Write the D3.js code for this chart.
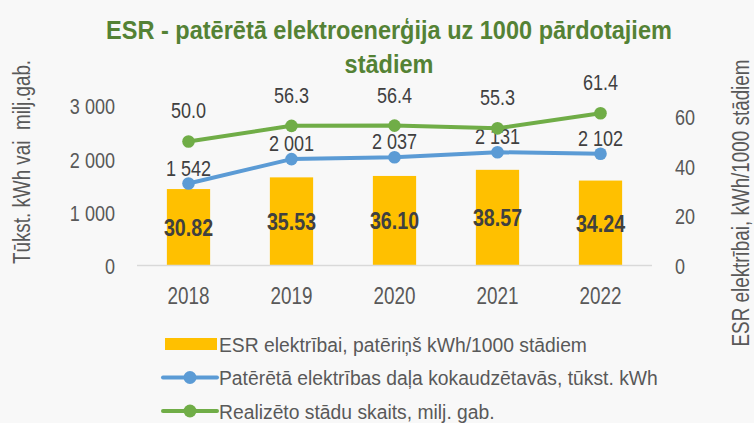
<!DOCTYPE html>
<html>
<head>
<meta charset="utf-8">
<script src="https://cdn.jsdelivr.net/npm/d3@7/dist/d3.min.js"></script>
<style>
  html, body { margin: 0; padding: 0; background: #f8f8f8; }
  #chart-container { width: 754px; height: 423px; }
  text { font-family: "Liberation Sans", Arial, sans-serif; }
</style>
</head>
<body>
<div id="chart-container"></div>
<script>
// data
const years = ["2018", "2019", "2020", "2021", "2022"];
const esrPer1000 = [30.82, 35.53, 36.10, 38.57, 34.24];      // bars, right axis
const consumedKWh = [1542, 2001, 2037, 2131, 2102];          // blue line, left axis
const plantsMln = [50.0, 56.3, 56.4, 55.3, 61.4];            // green line, right axis
const leftTicks = [0, 1000, 2000, 3000];
const rightTicks = [0, 20, 40, 60];
const legendNames = [
  "ESR elektrībai, patēriņš kWh/1000 stādiem",
  "Patērētā elektrības daļa kokaudzētavās, tūkst. kWh",
  "Realizēto stādu skaits, milj. gab."
];

const colors = { bar: "#ffc000", blue: "#5b9bd5", green: "#70ad47", title: "#548235", text: "#595959" };
const lv = d3.formatLocale({ decimal: ".", thousands: "\u00a0", grouping: [3], currency: ["", ""] });
const fmtThousands = lv.format(",d");

const W = 754, H = 423;
const NARROW = 0.82; // no Arial Narrow here, so squeeze Liberation Sans
const plot = { left: 137, right: 652, top: 106, bottom: 265.5 };

const svg = d3.select("#chart-container").append("svg")
  .attr("width", W).attr("height", H);

svg.append("rect").attr("width", W).attr("height", H).attr("fill", "#f8f8f8");

const x = d3.scaleBand().domain(years)
  .range([plot.left, plot.right])
  .paddingInner(0.58).paddingOuter(0.29);
const yLeft = d3.scaleLinear().domain([0, 3000]).range([plot.bottom, plot.top]);
const yRight = d3.scaleLinear().domain([0, 64.3]).range([plot.bottom, plot.top]);
const cx = (d) => x(d) + x.bandwidth() / 2;

// text placed by transform so it can be squeezed horizontally
const addText = (parent, px, py, str, rot, sx = NARROW) => parent.append("text")
  .attr("transform", `translate(${px},${py})${rot ? ` rotate(${rot})` : ""} scale(${sx},1)`)
  .text(str);

// title, first line squeezed to the width it has in the picture
const title1 = addText(svg, 389, 39, "ESR - patērētā elektroenerģija uz 1000 pārdotajiem", 0, 1)
  .attr("text-anchor", "middle").attr("fill", colors.title).attr("font-weight", "bold").attr("font-size", 26);
const titleSx = 566 / title1.node().getComputedTextLength();
title1.attr("transform", `translate(389,39) scale(${titleSx},1)`);
addText(svg, 389, 73, "stādiem", 0, titleSx)
  .attr("text-anchor", "middle").attr("fill", colors.title).attr("font-weight", "bold").attr("font-size", 26);

// axes
const leftAxis = svg.append("g")
  .attr("transform", `translate(${plot.left - 22},0)`)
  .call(d3.axisLeft(yLeft).tickValues(leftTicks).tickFormat(fmtThousands).tickSize(0).tickPadding(0));
const rightAxis = svg.append("g")
  .attr("transform", `translate(${plot.right + 23},0)`)
  .call(d3.axisRight(yRight).tickValues(rightTicks).tickSize(0).tickPadding(0));
const xAxis = svg.append("g")
  .attr("transform", `translate(0,${plot.bottom + 38})`)
  .call(d3.axisBottom(x).tickSize(0).tickPadding(0));

[leftAxis, rightAxis, xAxis].forEach((g) => {
  g.select(".domain").remove();
  g.selectAll("text").attr("fill", colors.text).attr("font-size", 22)
    .attr("font-family", "\"Liberation Sans\", Arial, sans-serif")
    .attr("x", 0).attr("y", 0).attr("dy", "0.36em")
    .attr("transform", `scale(${NARROW},1)`);
});
xAxis.selectAll("text").attr("dy", 0).attr("font-size", 23);

// axis titles
addText(svg, 30, 162, "Tūkst. kWh vai  milj.gab.", -90)
  .attr("text-anchor", "middle").attr("fill", colors.text).attr("font-size", 23)
  .style("white-space", "pre");
addText(svg, 749, 203, "ESR elektrībai, kWh/1000 stādiem", -90)
  .attr("text-anchor", "middle").attr("fill", colors.text).attr("font-size", 23);

// bars
const bars = svg.append("g").attr("class", "bars");
bars.selectAll("rect").data(years).enter().append("rect")
  .attr("x", (d) => x(d))
  .attr("width", x.bandwidth())
  .attr("y", (d, i) => yRight(esrPer1000[i]))
  .attr("height", (d, i) => yRight(0) - yRight(esrPer1000[i]))
  .attr("fill", colors.bar);

// baseline
svg.append("line")
  .attr("x1", plot.left).attr("x2", plot.right)
  .attr("y1", plot.bottom).attr("y2", plot.bottom)
  .attr("stroke", "#d9d9d9").attr("stroke-width", 1.5);

years.forEach((d, i) => {
  addText(bars, cx(d), (yRight(esrPer1000[i]) + yRight(0)) / 2, esrPer1000[i].toFixed(2))
    .attr("dy", "0.36em")
    .attr("text-anchor", "middle").attr("font-weight", "bold").attr("font-size", 24)
    .attr("fill", "#404040");
});

// lines
const drawLine = (values, scale, color, fmt, labelDy) => {
  const pts = years.map((d, i) => [cx(d), scale(values[i])]);
  const g = svg.append("g");
  g.append("path")
    .attr("d", d3.line()(pts))
    .attr("fill", "none").attr("stroke", color).attr("stroke-width", 4)
    .attr("stroke-linejoin", "round");
  g.selectAll("circle").data(pts).enter().append("circle")
    .attr("cx", (d) => d[0]).attr("cy", (d) => d[1]).attr("r", 6.3)
    .attr("fill", color);
  values.forEach((v, i) => {
    addText(g, pts[i][0], pts[i][1] - labelDy, fmt(v))
      .attr("text-anchor", "middle").attr("font-size", 22).attr("fill", "#404040");
  });
};
drawLine(consumedKWh, yLeft, colors.blue, fmtThousands, 8);
drawLine(plantsMln, yRight, colors.green, (d) => d.toFixed(1), 23);

// legend
const legend = svg.append("g").attr("class", "legend");
const rowY = [344, 377.5, 411];
legend.append("rect")
  .attr("x", 165).attr("y", rowY[0] - 6).attr("width", 52).attr("height", 12)
  .attr("fill", colors.bar);
[colors.blue, colors.green].forEach((c, i) => {
  legend.append("line")
    .attr("x1", 163).attr("x2", 217).attr("y1", rowY[i + 1]).attr("y2", rowY[i + 1])
    .attr("stroke", c).attr("stroke-width", 4).attr("stroke-linecap", "round");
  legend.append("circle").attr("cx", 190).attr("cy", rowY[i + 1]).attr("r", 6.5).attr("fill", c);
});
legendNames.forEach((name, i) => {
  addText(legend, 219, rowY[i] + 7.5, name, 0, 0.92)
    .attr("font-size", 21).attr("fill", colors.text);
});
</script>
</body>
</html>
